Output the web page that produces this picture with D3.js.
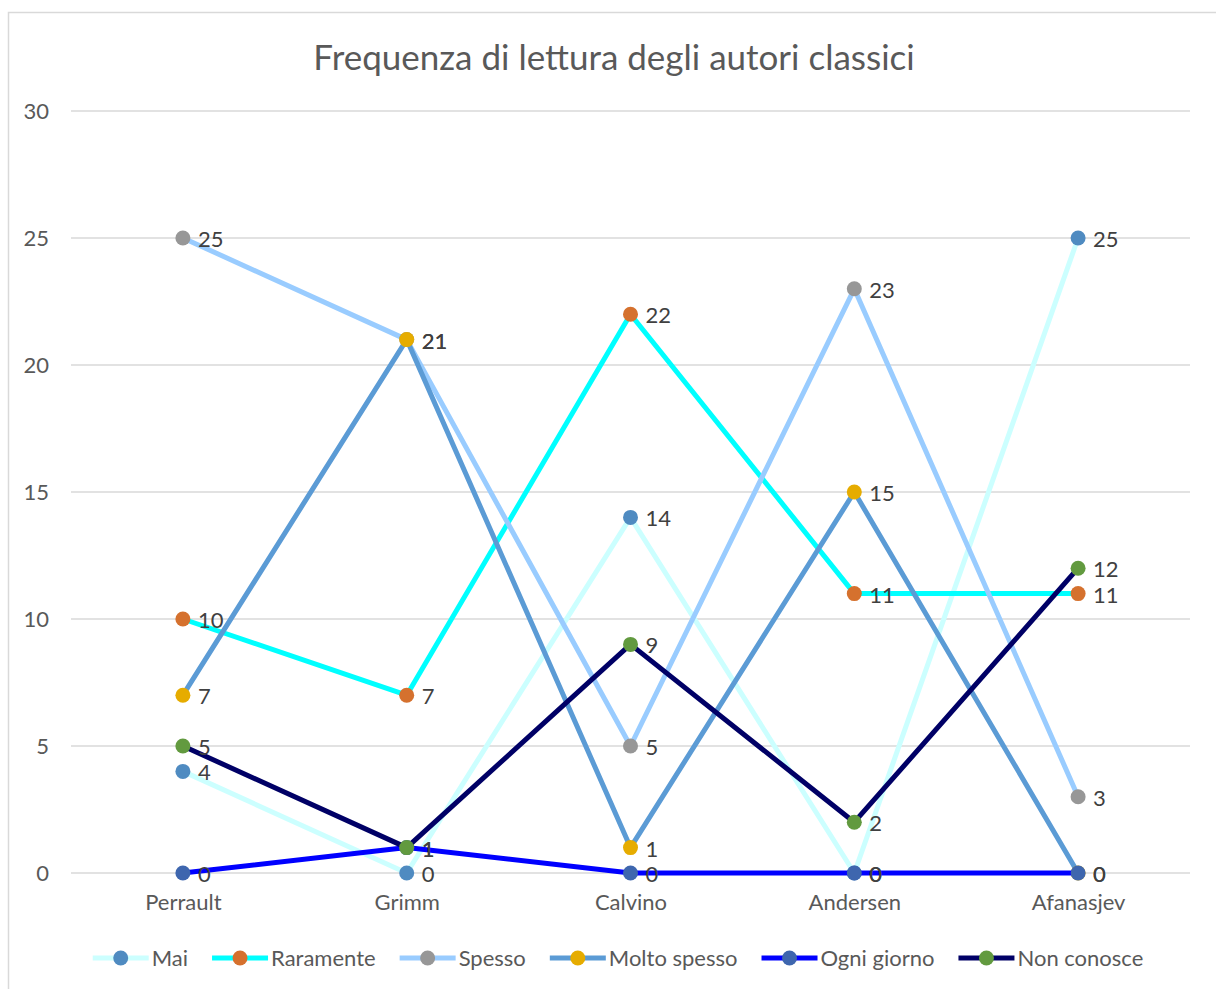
<!DOCTYPE html>
<html>
<head>
    <meta charset="utf-8">
    <title>Frequenza di lettura degli autori classici</title>
    <script src="https://d3js.org/d3.v7.min.js" charset="utf-8"></script>
    <style>
        html, body { margin: 0; padding: 0; background: #fff; }
        svg text { font-family: Lato, "Open Sans", sans-serif; }
    </style>
</head>
<body>
<div id="chart"></div>
<script>
    // categories and values
    const authors = ["Perrault", "Grimm", "Calvino", "Andersen", "Afanasjev"];
    const seriesNames = ["Mai", "Raramente", "Spesso", "Molto spesso", "Ogni giorno", "Non conosce"];
    const mai = [4, 0, 14, 0, 25];
    const raramente = [10, 7, 22, 11, 11];
    const spesso = [25, 21, 5, 23, 3];
    const moltoSpesso = [7, 21, 1, 15, 0];
    const ogniGiorno = [0, 1, 0, 0, 0];
    const nonConosce = [5, 1, 9, 2, 12];
    const yTicks = [0, 5, 10, 15, 20, 25, 30];

    const lineColors = ["#ccffff", "#00ffff", "#99ccff", "#5b9bd5", "#0000ff", "#000066"];
    const markerColors = ["#4f8bc1", "#d5712e", "#979797", "#e6ac00", "#3e66ae", "#629a3f"];

    const series = seriesNames.map((name, i) => ({
        name: name,
        values: [mai, raramente, spesso, moltoSpesso, ogniGiorno, nonConosce][i],
        line: lineColors[i],
        marker: markerColors[i]
    }));

    const width = 1216, height = 989;
    const plot = { left: 71, right: 1190, top: 111, bottom: 873 };

    const svg = d3.select("#chart").append("svg")
        .attr("width", width)
        .attr("height", height);

    // chart border
    svg.append("rect")
        .attr("x", 8.5).attr("y", 12.5)
        .attr("width", 1230).attr("height", 1000)
        .attr("fill", "#fff")
        .attr("stroke", "#d9d9d9")
        .attr("stroke-width", 1.5);

    // title
    svg.append("text")
        .attr("x", 614)
        .attr("y", 70)
        .attr("text-anchor", "middle")
        .attr("fill", "#595959")
        .style("font-size", "35px")
        .text("Frequenza di lettura degli autori classici");

    const x = d3.scalePoint().domain(authors).range([plot.left, plot.right]).padding(0.5);
    const y = d3.scaleLinear().domain([0, 30]).range([plot.bottom, plot.top]);

    // gridlines
    svg.append("g")
        .selectAll("line")
        .data(yTicks)
        .enter()
        .append("line")
        .attr("x1", plot.left).attr("x2", plot.right)
        .attr("y1", d => y(d)).attr("y2", d => y(d))
        .attr("stroke", "#d9d9d9")
        .attr("stroke-width", 1.5);

    // y axis
    const yAxis = svg.append("g")
        .attr("transform", `translate(${plot.left - 22},0)`)
        .call(d3.axisLeft(y).tickValues(yTicks).tickSize(0).tickPadding(0));
    yAxis.select(".domain").remove();
    yAxis.selectAll("text")
        .attr("fill", "#595959")
        .style("font-size", "22px")
        .style("font-family", "Lato, sans-serif");

    // x axis
    const xAxis = svg.append("g")
        .attr("transform", `translate(0,${plot.bottom})`)
        .call(d3.axisBottom(x).tickSize(0).tickPadding(21));
    xAxis.select(".domain").remove();
    xAxis.selectAll("text")
        .attr("fill", "#595959")
        .style("font-size", "22px")
        .style("font-family", "Lato, sans-serif");

    const line = d3.line()
        .x((d, i) => x(authors[i]))
        .y(d => y(d));

    series.forEach(s => {
        const g = svg.append("g");
        g.append("path")
            .datum(s.values)
            .attr("fill", "none")
            .attr("stroke", s.line)
            .attr("stroke-width", 5)
            .attr("stroke-linejoin", "round")
            .attr("d", line);
        g.selectAll("circle")
            .data(s.values)
            .enter()
            .append("circle")
            .attr("cx", (d, i) => x(authors[i]))
            .attr("cy", d => y(d))
            .attr("r", 7.5)
            .attr("fill", s.marker);
    });

    // data labels on top of everything
    series.forEach(s => {
        svg.append("g")
            .selectAll("text")
            .data(s.values)
            .enter()
            .append("text")
            .attr("x", (d, i) => x(authors[i]) + 15)
            .attr("y", d => y(d) + 9)
            .attr("fill", "#404040")
            .style("font-size", "22px")
            .text(d => d);
    });

    // legend
    const legend = svg.append("g").attr("transform", "translate(0,958)");
    const items = legend.selectAll("g")
        .data(series)
        .enter()
        .append("g");
    items.append("line")
        .attr("x1", 0).attr("x2", 56)
        .attr("stroke", d => d.line)
        .attr("stroke-width", 5);
    items.append("circle")
        .attr("cx", 28).attr("r", 7.5)
        .attr("fill", d => d.marker);
    items.append("text")
        .attr("x", 59)
        .attr("y", 8)
        .attr("fill", "#595959")
        .style("font-size", "22px")
        .text(d => d.name);

    let widths = [];
    items.each(function () { widths.push(this.getBBox().width); });
    const gap = 24;
    const total = d3.sum(widths) + gap * (widths.length - 1);
    let pos = 618 - total / 2;
    items.attr("transform", (d, i) => {
        const t = `translate(${pos},0)`;
        pos += widths[i] + gap;
        return t;
    });
</script>
</body>
</html>
